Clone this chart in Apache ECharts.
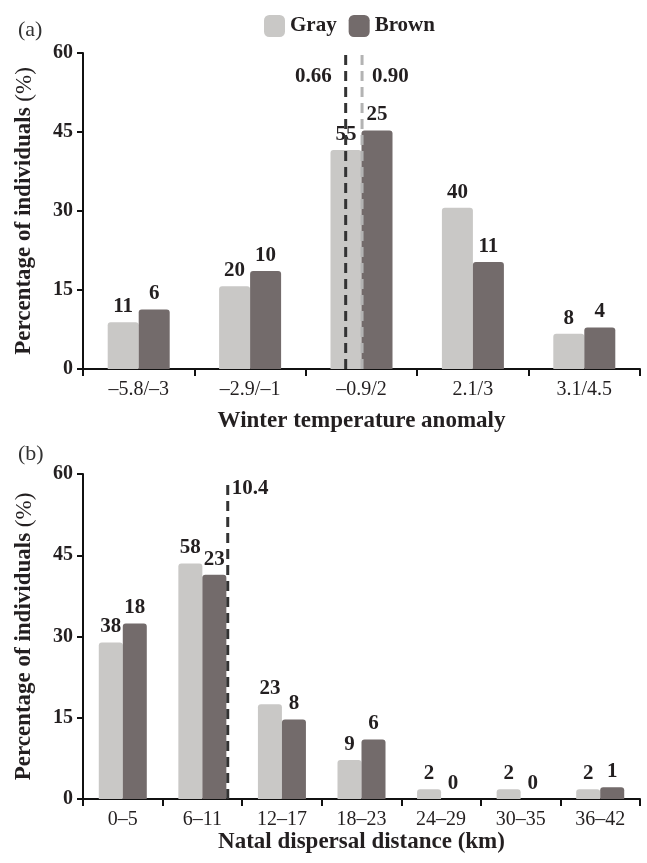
<!DOCTYPE html>
<html>
<head>
<meta charset="utf-8">
<script src="https://cdn.jsdelivr.net/npm/echarts@6/dist/echarts.min.js"></script>
<style>
html,body{margin:0;padding:0;background:#fff;}
#chart{width:647px;height:863px;}
</style>
</head>
<body>
<div id="chart"></div>
<script>
// ---- Data: panel (a) ----
const catsA = ['\u20135.8/\u20133', '\u20132.9/\u20131', '\u20130.9/2', '2.1/3', '3.1/4.5'];
const grayA = [8.9, 15.7, 41.6, 30.6, 6.7];
const brownA = [11.3, 18.6, 45.3, 20.3, 7.9];
const grayCountA = [11, 20, 55, 40, 8];
const brownCountA = [6, 10, 25, 11, 4];
const meanPosA = [2.358, 2.505];      // position along the category scale (0..5)
const meanTextA = ['0.66', '0.90'];
const meanTopA = 59.6;
const meanLabelLevelA = 55.6;

// ---- Data: panel (b) ----
const catsB = ['0\u20135', '6\u201311', '12\u201317', '18\u201323', '24\u201329', '30\u201335', '36\u201342'];
const grayB = [28.9, 43.5, 17.5, 7.2, 1.8, 1.8, 1.8];
const brownB = [32.4, 41.4, 14.7, 11.0, 0, 0, 2.15];
const grayCountB = [38, 58, 23, 9, 2, 2, 2];
const brownCountB = [18, 23, 8, 6, 0, 0, 1];
const meanPosB = [1.819];             // position along the category scale (0..7)
const meanTextB = ['10.4'];
const meanTopB = 58.6;
const meanLabelLevelB = 57.3;

const yTicks = [0, 15, 30, 45, 60];

// ---- Styles ----
const FONT = '"Liberation Serif", "Times New Roman", serif';
const GRAY = '#c9c8c6';
const BROWN = '#736b6b';
const TXT = '#231f20';
const DARK_DASH = '#333333';
const LIGHT_DASH = '#b3b3b3';

const chart = echarts.init(document.getElementById('chart'), null, {renderer: 'canvas'});

function yAxisFor(grid) {
  return {
    type: 'value', gridIndex: grid, min: yTicks[0], max: yTicks[yTicks.length - 1], interval: 15,
    name: '{b|Percentage of individuals }{n|(%)}',
    nameLocation: 'middle', nameGap: 47,
    nameTextStyle: {rich: {
      b: {fontFamily: FONT, fontWeight: 'bold', fontSize: 23, color: TXT},
      n: {fontFamily: FONT, fontWeight: 'normal', fontSize: 23, color: TXT}
    }},
    axisLine: {show: true, lineStyle: {color: '#111', width: 2}},
    axisTick: {show: true, length: 6, lineStyle: {color: '#111', width: 2}},
    axisLabel: {fontFamily: FONT, fontWeight: 'bold', fontSize: 20, color: TXT, margin: 10},
    splitLine: {show: false}
  };
}
function xCatAxis(grid, cats, name, gap) {
  return {
    type: 'category', gridIndex: grid, data: cats,
    name: name, nameLocation: 'middle', nameGap: gap,
    nameTextStyle: {fontFamily: FONT, fontWeight: 'bold', fontSize: 23, color: TXT},
    axisLine: {show: true, lineStyle: {color: '#111', width: 2}},
    axisTick: {show: true, length: 7, lineStyle: {color: '#111', width: 2}},
    axisLabel: {fontFamily: FONT, fontSize: 20, color: TXT, margin: 11}
  };
}
function xHiddenAxis(grid, n) {
  return {type: 'value', gridIndex: grid, min: 0, max: n, show: false, splitLine: {show: false}};
}
function barSeries(name, values, counts, color, xi, yi, width) {
  return {
    type: 'bar', name: name, xAxisIndex: xi, yAxisIndex: yi, data: values,
    barWidth: width, barGap: '0%',
    itemStyle: {color: color, borderRadius: [3, 3, 0, 0]},
    label: {show: true, position: 'top', distance: 5, fontFamily: FONT, fontWeight: 'bold', fontSize: 21, color: TXT,
      formatter: p => String(counts[p.dataIndex])},
    z: 2
  };
}
function meanSeries(pos, top, level, text, color, xi, yi, side, dist) {
  return [{
    type: 'line', xAxisIndex: xi, yAxisIndex: yi, data: [[pos, 0], [pos, top]],
    symbol: 'none', silent: true, z: 5,
    lineStyle: {color: color, width: 3, type: [10, 6]}
  }, {
    type: 'scatter', xAxisIndex: xi, yAxisIndex: yi, data: [[pos, level]],
    symbolSize: 0, silent: true, z: 6,
    itemStyle: {opacity: 1},
    label: {show: true, position: side, distance: dist, opacity: 1,
      formatter: text, fontFamily: FONT, fontWeight: 'bold', fontSize: 21, color: TXT}
  }];
}

const series = [
  barSeries('Gray', grayA, grayCountA, GRAY, 0, 0, 31),
  barSeries('Brown', brownA, brownCountA, BROWN, 0, 0, 31),
  ...meanSeries(meanPosA[0], meanTopA, meanLabelLevelA, meanTextA[0], DARK_DASH, 1, 0, 'left', 14),
  ...meanSeries(meanPosA[1], meanTopA, meanLabelLevelA, meanTextA[1], LIGHT_DASH, 1, 0, 'right', 10),
  barSeries('Gray', grayB, grayCountB, GRAY, 2, 1, 24),
  barSeries('Brown', brownB, brownCountB, BROWN, 2, 1, 24),
  ...meanSeries(meanPosB[0], meanTopB, meanLabelLevelB, meanTextB[0], DARK_DASH, 3, 1, 'right', 4)
];

chart.setOption({
  backgroundColor: '#fff',
  animation: false,
  title: [
    {text: '(a)', left: 13, top: 14, textStyle: {fontFamily: FONT, fontWeight: 'normal', fontSize: 22, color: '#333'}},
    {text: '(b)', left: 13, top: 438, textStyle: {fontFamily: FONT, fontWeight: 'normal', fontSize: 22, color: '#333'}}
  ],
  legend: {
    data: ['Gray', 'Brown'], left: 259, top: 10, icon: 'roundRect',
    itemWidth: 21, itemHeight: 22, itemGap: 12,
    textStyle: {fontFamily: FONT, fontWeight: 'bold', fontSize: 21, color: TXT}
  },
  grid: [
    {left: 83, top: 53, width: 557, height: 316},
    {left: 83, top: 474, width: 557, height: 325}
  ],
  xAxis: [
    xCatAxis(0, catsA, 'Winter temperature anomaly', 41),
    xHiddenAxis(0, catsA.length),
    xCatAxis(1, catsB, 'Natal dispersal distance (km)', 31),
    xHiddenAxis(1, catsB.length)
  ],
  yAxis: [yAxisFor(0), yAxisFor(1)],
  series: series
});
</script>
</body>
</html>
